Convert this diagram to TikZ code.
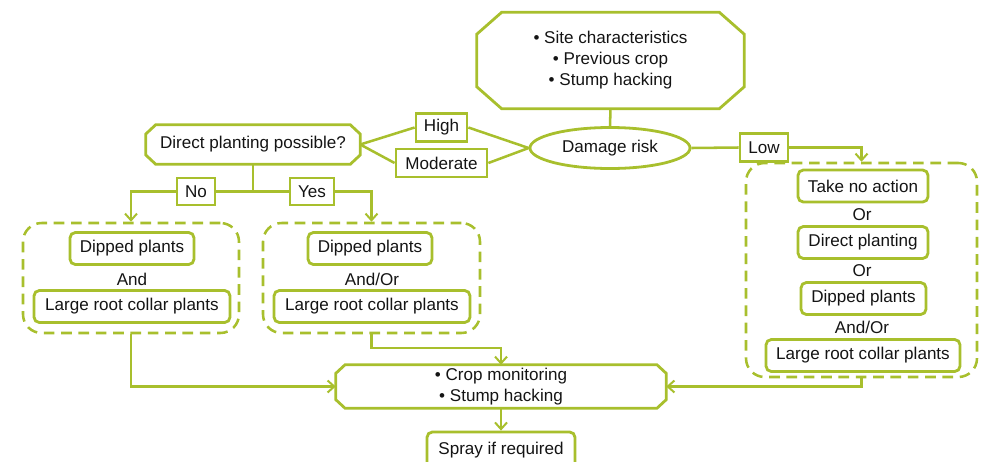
\documentclass[tikz,border=0pt]{standalone}
\usepackage{fontspec}
\setmainfont{Liberation Sans}
\usetikzlibrary{shapes.geometric,arrows.meta}
\definecolor{leaf}{RGB}{168,191,45}

% outline of an octagon around a (borderless) rectangular node
\newcommand\octoutline[3]{%
  \draw[edge] ([xshift=#2]#1.north west) -- ([xshift=-#2]#1.north east)
    -- ([yshift=-#3]#1.north east) -- ([yshift=#3]#1.south east)
    -- ([xshift=-#2]#1.south east) -- ([xshift=#2]#1.south west)
    -- ([yshift=#3]#1.south west) -- ([yshift=-#3]#1.north west) -- cycle;}

\begin{document}
\begin{tikzpicture}[x=0.75pt,y=-0.75pt,
  every node/.style={font=\fontsize{12.8}{15.75}\selectfont, text=black!92, inner sep=0pt, align=center},
  edge/.style={draw=leaf, line width=2.1pt},
  conn/.style={draw=leaf, line width=1.9pt},
  arr/.style={conn, -{Straight Barb[length=5pt,width=9pt,line width=1.5pt]}},
  sqbox/.style={edge, fill=white, rectangle, minimum height=21pt},
  rbox/.style={edge, fill=white, rectangle, rounded corners=4pt, minimum height=24pt},
  octo/.style={rectangle},
  group/.style={draw=leaf, line width=1.9pt, dash pattern=on 8pt off 5pt, rounded corners=14pt, rectangle}]

\useasboundingbox (0,0) rectangle (984,461);

% ---- decision chain at the top
\node[octo, minimum width=200.25pt, minimum height=72pt] (site) at (610.5,60.5)
  {• Site characteristics\\• Previous crop\\• Stump hacking};
\octoutline{site}{18.75pt}{16.5pt}

\node[ellipse, edge, minimum width=120pt, minimum height=30.75pt] (dmg) at (610,148) {Damage risk};

\node[sqbox, minimum width=38.25pt] (high) at (441.5,127.5) {High};
\node[sqbox, minimum width=68.25pt] (mod) at (441.5,163) {Moderate};
\node[sqbox, minimum width=36pt] (low) at (764,147.5) {Low};

\node[octo, minimum width=160.5pt, minimum height=29.25pt] (dp) at (253,144.5) {Direct planting possible?};
\octoutline{dp}{7.5pt}{7pt}

\node[sqbox, minimum width=28.5pt, minimum height=20.25pt] (no) at (196,191.5) {No};
\node[sqbox, minimum width=33pt, minimum height=20.25pt] (yes) at (312,191.5) {Yes};
\coordinate (jn) at (253,191.5);

% ---- left option group
\node[group, minimum width=162pt, minimum height=82.5pt] (lgrp) at (131,278) {};
\node[rbox, minimum width=93pt] (dipA) at (132,248.5) {Dipped plants};
\node (andA) at (132,279.5) {And};
\node[rbox, minimum width=147pt] (lrcA) at (132,306.5) {Large root collar plants};

% ---- middle option group
\node[group, minimum width=162.75pt, minimum height=82.5pt] (mgrp) at (371.5,278) {};
\node[rbox, minimum width=93pt] (dipB) at (370,248.5) {Dipped plants};
\node (andB) at (372,279.5) {And/Or};
\node[rbox, minimum width=147pt] (lrcB) at (372,306.5) {Large root collar plants};

% ---- right option group
\node[group, minimum width=173.25pt, minimum height=160.5pt] (rgrp) at (861.5,270) {};
\node[rbox, minimum width=97.5pt] (noact) at (863,186) {Take no action};
\node (orA) at (862,214.5) {Or};
\node[rbox, minimum width=97.5pt] (direct) at (863,242.5) {Direct planting};
\node (orB) at (862,271) {Or};
\node[rbox, minimum width=93.75pt] (dipC) at (863.5,298.5) {Dipped plants};
\node (andC) at (862,327) {And/Or};
\node[rbox, minimum width=145.5pt] (lrcC) at (863,355.5) {Large root collar plants};

% ---- follow-up
\node[octo, minimum width=247.5pt, minimum height=32.25pt] (crop) at (501,386.5)
  {• Crop monitoring\\• Stump hacking};
\octoutline{crop}{7pt}{6.5pt}
\node[rbox, minimum width=111pt, minimum height=27pt] (spray) at (501,450) {Spray if required};

% ---- connectors
\draw[conn] (site.south) -- (dmg.north);
\draw[conn] (dmg.west) -- (high.east);
\draw[conn] (dmg.west) -- (mod.east);
\draw[conn] (high.west) -- (dp.east);
\draw[conn] (mod.west) -- (dp.east);
\draw[conn] (dmg.east) -- (low.west);
\draw[arr] (low.east) -| (rgrp.north);

\draw[conn] (dp.south) -- (jn);
\draw[conn] (jn) -- (no.east);
\draw[arr] (no.west) -| (lgrp.north);
\draw[conn] (jn) -- (yes.west);
\draw[arr] (yes.east) -| (mgrp.north);

\coordinate (mbend) at (501,348);
\draw[arr] (lgrp.south) |- (crop.west);
\draw[arr] (mgrp.south) |- (mbend) -- (crop.north);
\draw[arr] (rgrp.south) |- (crop.east);
\draw[arr] (crop.south) -- (spray.north);
\end{tikzpicture}
\end{document}
